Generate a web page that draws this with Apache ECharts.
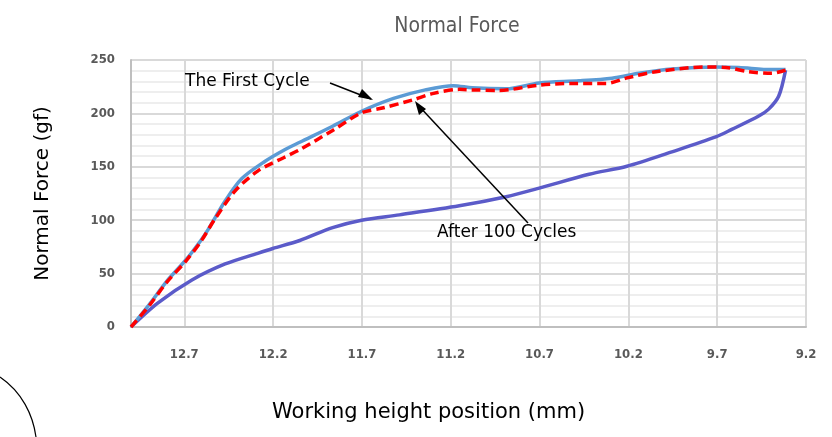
<!DOCTYPE html>
<html>
<head>
<meta charset="utf-8">
<script src="https://cdn.jsdelivr.net/npm/echarts@6/dist/echarts.min.js"></script>
<style>
  html, body { margin: 0; padding: 0; background: #fff; }
  #chart { width: 832px; height: 437px; }
</style>
</head>
<body>
<div id="chart"></div>
<script>
// working height (mm) and normal force (gf)
var firstX = [13.0, 12.893, 12.798, 12.69, 12.607, 12.567, 12.47, 12.376, 12.247, 12.135, 12.05, 11.865, 11.702, 11.522, 11.343, 11.185, 11.079, 10.888, 10.702, 10.478, 10.292, 10.14, 9.955, 9.708, 9.579, 9.393, 9.315];
var firstY = [0, 22, 43, 63, 81, 91, 118, 139, 155, 166, 173, 188, 202, 214, 222, 226, 224, 223, 228.5, 230.5, 233, 237.5, 241.5, 243.5, 243, 241, 241];

var after100X = [13.0, 12.893, 12.798, 12.69, 12.607, 12.528, 12.416, 12.287, 12.135, 12.05, 11.865, 11.702, 11.585, 11.416, 11.303, 11.152, 11.079, 10.927, 10.702, 10.517, 10.326, 10.213, 10.045, 9.764, 9.652, 9.522, 9.393, 9.315];
var after100Y = [0, 21, 42, 62, 80, 101, 127, 146, 159, 166, 184, 200.5, 205, 212.5, 218.5, 222.5, 222, 221.5, 226.5, 228, 228, 233, 239, 243.5, 243, 239, 237.5, 240.5];

var returnX = [9.315, 9.354, 9.41, 9.466, 9.618, 9.708, 9.955, 10.208, 10.421, 10.702, 10.888, 11.152, 11.489, 11.702, 11.865, 12.05, 12.202, 12.287, 12.47, 12.657, 12.848, 13.0];
var returnY = [240.5, 216, 204, 197.5, 185, 178, 164, 150.5, 143, 130, 122, 113.5, 105, 100, 93, 81, 73.5, 69, 59, 44, 22.5, 0];

function pairs(xs, ys) {
    return xs.map(function (x, i) { return [x, ys[i]]; });
}

var cadFont = 'DejaVu Sans';
var narrow = 'Liberation Sans Narrow, DejaVu Sans Condensed, sans-serif';
var myChart = echarts.init(document.getElementById('chart'));

var option = {
    backgroundColor: '#fff',
    animation: false,
    title: {
        text: 'Normal Force',
        left: 452,
        top: 11,
        textAlign: 'center',
        textStyle: {
            color: '#595959',
            fontSize: 21,
            fontWeight: 'normal',
            fontFamily: narrow
        }
    },
    grid: {
        left: 131,
        right: 26,
        top: 60,
        bottom: 110
    },
    xAxis: {
        type: 'value',
        inverse: true,
        min: 9.2,
        max: 13.0,
        interval: 0.5,
        axisLine: { show: true, lineStyle: { color: '#bfbfbf', width: 2 } },
        axisTick: { show: false },
        axisLabel: {
            showMaxLabel: false,
            margin: 21,
            color: '#595959',
            fontSize: 13,
            fontWeight: 'bold',
            fontFamily: narrow,
            formatter: function (v) { return v.toFixed(1); }
        },
        splitLine: { show: true, lineStyle: { color: '#d9d9d9', width: 2 } }
    },
    yAxis: {
        type: 'value',
        min: 0,
        max: 250,
        interval: 50,
        name: 'Normal Force (gf)',
        nameLocation: 'middle',
        nameGap: 78,
        nameTextStyle: { color: '#000', fontSize: 20, fontFamily: cadFont },
        axisLine: { show: true, lineStyle: { color: '#bfbfbf', width: 2 } },
        axisTick: { show: false },
        axisLabel: {
            margin: 16,
            color: '#595959',
            fontSize: 13,
            fontWeight: 'bold',
            fontFamily: narrow
        },
        splitLine: { show: true, lineStyle: { color: '#d9d9d9', width: 2 } },
        minorTick: { show: false, splitNumber: 5 },
        minorSplitLine: { show: true, lineStyle: { color: '#eeeeee', width: 2 } }
    },
    series: [
        {
            name: 'Return',
            type: 'line',
            data: pairs(returnX, returnY),
            smooth: 0.3,
            showSymbol: false,
            lineStyle: { color: '#5b5bc9', width: 3.5 }
        },
        {
            name: 'The First Cycle',
            type: 'line',
            data: pairs(firstX, firstY),
            smooth: 0.3,
            showSymbol: false,
            lineStyle: { color: '#5b9bd5', width: 3.5 }
        },
        {
            name: 'After 100 Cycles',
            type: 'line',
            data: pairs(after100X, after100Y),
            smooth: 0.3,
            showSymbol: false,
            lineStyle: { color: '#ff0000', width: 3.5, type: [9, 5] }
        }
    ],
    graphic: [
        {
            type: 'text', left: 185, top: 73, z: 100,
            style: { text: 'The First Cycle', fill: '#000', font: '17px ' + cadFont }
        },
        {
            type: 'line', z: 100,
            shape: { x1: 330, y1: 83, x2: 371, y2: 99 },
            style: { stroke: '#000', lineWidth: 1.5 }
        },
        {
            type: 'polygon', z: 100,
            shape: { points: [[373, 100], [358, 97], [362, 89]] },
            style: { fill: '#000' }
        },
        {
            type: 'text', left: 437, top: 224, z: 100,
            style: { text: 'After 100 Cycles', fill: '#000', font: '17px ' + cadFont }
        },
        {
            type: 'line', z: 100,
            shape: { x1: 528, y1: 223, x2: 417, y2: 104 },
            style: { stroke: '#000', lineWidth: 1.5 }
        },
        {
            type: 'polygon', z: 100,
            shape: { points: [[415, 101], [419, 115], [426, 109]] },
            style: { fill: '#000' }
        },
        {
            type: 'text', left: 272, top: 402, z: 100,
            style: { text: 'Working height position (mm)', fill: '#000', font: '21px ' + cadFont }
        },
        {
            type: 'bezierCurve', z: 100,
            shape: { x1: 0, y1: 377, cpx1: 22, cpy1: 392, cpx2: 33, cpy2: 415, x2: 36, y2: 437 },
            style: { stroke: '#000', lineWidth: 1.2, fill: null }
        }
    ]
};
myChart.setOption(option);
</script>
</body>
</html>
